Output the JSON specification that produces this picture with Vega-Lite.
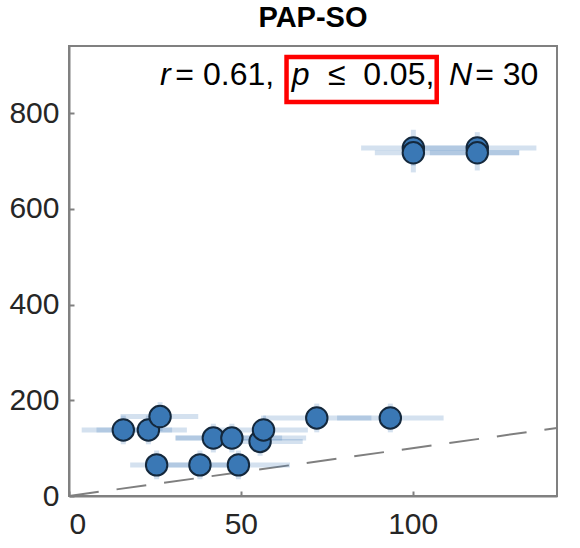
{
  "$schema": "https://vega.github.io/schema/vega-lite/v6.json",
  "width": 488,
  "height": 450,
  "autosize": {"type": "none"},
  "padding": {"left": 69, "top": 46, "right": 23, "bottom": 52},
  "background": "white",
  "title": {"text": "PAP-SO", "font": "Liberation Sans", "fontSize": 29, "fontWeight": "bold", "color": "#000000", "anchor": "middle", "offset": 13},
  "config": {
    "view": {"stroke": "#808080", "strokeWidth": 2},
    "axis": {
      "labelFont": "Liberation Sans", "labelFontSize": 30, "labelColor": "#262626",
      "domainColor": "#808080", "domainWidth": 2, "tickColor": "#808080", "tickWidth": 2, "tickSize": -5,
      "grid": false, "title": null
    }
  },
  "datasets": {
    "pts": [
      {"x": 100.2, "y": 727, "xlo": 85, "xhi": 116, "ylo": 690, "yhi": 765},
      {"x": 100.2, "y": 717, "xlo": 89, "xhi": 131, "ylo": 676, "yhi": 750},
      {"x": 118.8, "y": 727, "xlo": 101, "xhi": 136, "ylo": 695, "yhi": 760},
      {"x": 118.8, "y": 717, "xlo": 105, "xhi": 131, "ylo": 680, "yhi": 745},
      {"x": 15.8, "y": 138, "xlo": 3.7, "xhi": 30, "ylo": 108, "yhi": 168},
      {"x": 23.1, "y": 138, "xlo": 8, "xhi": 34.3, "ylo": 108, "yhi": 168},
      {"x": 26.5, "y": 166, "xlo": 15, "xhi": 37.6, "ylo": 136, "yhi": 196},
      {"x": 42.0, "y": 121, "xlo": 31, "xhi": 69, "ylo": 91, "yhi": 151},
      {"x": 47.4, "y": 121, "xlo": 31, "xhi": 62, "ylo": 91, "yhi": 151},
      {"x": 55.6, "y": 114, "xlo": 45, "xhi": 68, "ylo": 84, "yhi": 144},
      {"x": 56.6, "y": 138, "xlo": 43, "xhi": 69.5, "ylo": 108, "yhi": 168},
      {"x": 25.5, "y": 65, "xlo": 17.8, "xhi": 37, "ylo": 35, "yhi": 95},
      {"x": 38.1, "y": 65, "xlo": 27, "xhi": 50, "ylo": 35, "yhi": 95},
      {"x": 49.3, "y": 65, "xlo": 38, "xhi": 64.3, "ylo": 35, "yhi": 95},
      {"x": 72.1, "y": 163, "xlo": 56.5, "xhi": 88, "ylo": 133, "yhi": 193},
      {"x": 93.5, "y": 163, "xlo": 78, "xhi": 109, "ylo": 133, "yhi": 193}
    ],
    "diag": [{"x": 0, "y": 0}, {"x": 142, "y": 142}],
    "ann": [
      {"t": "r", "x": 26.5, "y": 858, "it": true},
      {"t": "=", "x": 30.9, "y": 858, "it": false},
      {"t": "0.61,", "x": 39.0, "y": 858, "it": false},
      {"t": "p", "x": 64.8, "y": 858, "it": true},
      {"t": "≤", "x": 75.4, "y": 858, "it": false},
      {"t": "0.05,", "x": 85.6, "y": 858, "it": false},
      {"t": "N", "x": 110.6, "y": 858, "it": true},
      {"t": "=", "x": 118.2, "y": 858, "it": false},
      {"t": "30", "x": 126.2, "y": 858, "it": false}
    ],
    "box": [{"x": 63.3, "x2": 107.0, "y": 823, "y2": 917}]
  },
  "layer": [
    {
      "data": {"name": "diag"},
      "mark": {"type": "line", "color": "#7f7f7f", "strokeWidth": 2, "strokeDash": [30, 18], "clip": true},
      "encoding": {
        "x": {"field": "x", "type": "quantitative", "scale": {"domain": [0, 142], "nice": false}, "axis": {"values": [0, 50, 100], "labelPadding": 18}},
        "y": {"field": "y", "type": "quantitative", "scale": {"domain": [0, 940], "nice": false}, "axis": {"values": [0, 200, 400, 600, 800], "labelPadding": 15}}
      }
    },
    {
      "data": {"name": "pts"},
      "mark": {"type": "rule", "color": "#3a78b5", "opacity": 0.22, "strokeWidth": 5},
      "encoding": {"x": {"field": "xlo", "type": "quantitative"}, "x2": {"field": "xhi"}, "y": {"field": "y", "type": "quantitative"}}
    },
    {
      "data": {"name": "pts"},
      "mark": {"type": "rule", "color": "#3a78b5", "opacity": 0.22, "strokeWidth": 5},
      "encoding": {"x": {"field": "x", "type": "quantitative"}, "y": {"field": "ylo", "type": "quantitative"}, "y2": {"field": "yhi"}}
    },
    {
      "data": {"name": "pts"},
      "mark": {"type": "point", "shape": "circle", "filled": true, "size": 460, "fill": "#3a78b5", "stroke": "#14283c", "strokeWidth": 2, "opacity": 1},
      "encoding": {"x": {"field": "x", "type": "quantitative"}, "y": {"field": "y", "type": "quantitative"}}
    },
    {
      "data": {"name": "ann"},
      "transform": [{"filter": "datum.it"}],
      "mark": {"type": "text", "font": "Liberation Sans", "fontSize": 32, "fontStyle": "italic", "align": "left", "baseline": "alphabetic", "color": "#000000"},
      "encoding": {"x": {"field": "x", "type": "quantitative"}, "y": {"field": "y", "type": "quantitative"}, "text": {"field": "t"}}
    },
    {
      "data": {"name": "ann"},
      "transform": [{"filter": "!datum.it"}],
      "mark": {"type": "text", "font": "Liberation Sans", "fontSize": 32, "align": "left", "baseline": "alphabetic", "color": "#000000"},
      "encoding": {"x": {"field": "x", "type": "quantitative"}, "y": {"field": "y", "type": "quantitative"}, "text": {"field": "t"}}
    },
    {
      "data": {"name": "box"},
      "mark": {"type": "rect", "fill": null, "fillOpacity": 0, "stroke": "#ff0000", "strokeWidth": 4.5},
      "encoding": {"x": {"field": "x", "type": "quantitative"}, "x2": {"field": "x2"}, "y": {"field": "y", "type": "quantitative"}, "y2": {"field": "y2"}}
    }
  ]
}
